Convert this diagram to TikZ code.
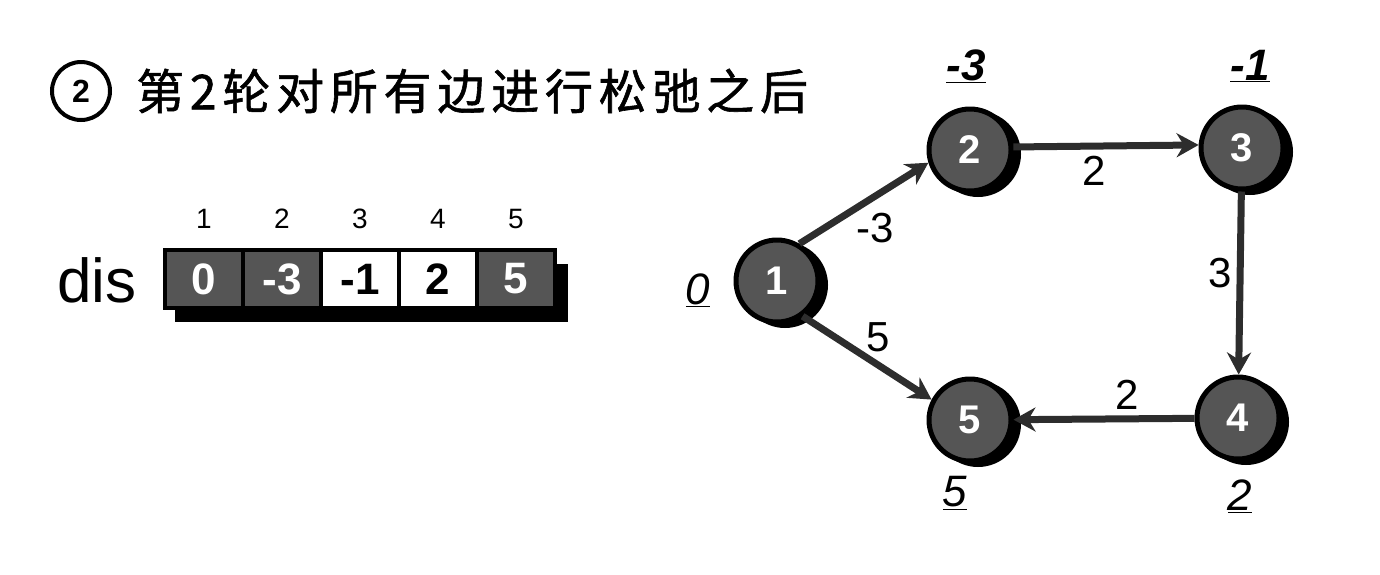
\documentclass[tikz,border=0pt]{standalone}
\usepackage{fontspec}
\setmainfont{Liberation Sans}
\newfontfamily\cjkfont[LetterSpace=12,FakeBold=1.2]{Noto Sans CJK SC}
\definecolor{vgray}{RGB}{85,85,85}
\definecolor{egray}{RGB}{45,45,45}
\usetikzlibrary{arrows.meta,positioning}

\begin{document}
\begin{tikzpicture}[x=1pt,y=-1pt,
    vertex/.style={draw=black, line width=5pt, circle, fill=vgray, minimum size=82pt, inner sep=0pt, text=white, font=\fontsize{40}{40}\selectfont\bfseries},
    link/.style={draw=egray, line width=7pt, -{Stealth[length=22pt,width=24pt]}},
    elabel/.style={font=\fontsize{42}{42}\selectfont},
    dlabel/.style={font=\fontsize{44}{44}\selectfont\itshape},
    cell/.style={draw=black, line width=4pt, minimum width=78pt, minimum height=58pt, inner sep=0pt, font=\fontsize{44}{44}\selectfont\bfseries}]
    \useasboundingbox (0,0) rectangle (1380,574);

    % Title
    \node[circle, draw, line width=4pt, minimum size=58pt, inner sep=0pt, font=\fontsize{32}{32}\selectfont\bfseries] (num) at (81,91) {2};
    \node[anchor=west, inner sep=0pt, font=\fontsize{48}{48}\cjkfont] (title) at (136,91) {第2轮对所有边进行松弛之后};

    % dis array
    \node[font=\fontsize{62}{62}\selectfont] (dis) at (97,280) {dis};
    \fill[black] (175,264) rectangle (568,322);
    \foreach \i/\v/\f/\t in {1/0/vgray/white, 2/-3/vgray/white, 3/-1/white/black, 4/2/white/black, 5/5/vgray/white} {
        \node[cell, fill=\f, text=\t] (c\i) at ({126+78*\i},279) {\v};
        \node[font=\fontsize{28}{28}\selectfont] (k\i) at ({126+78*\i},219) {\i};
    }

    % Vertices
    \foreach \n/\x/\y in {1/777/281, 2/970/150, 3/1242/148, 4/1238/418, 5/970/420} {
        \fill[black] (\x+8,\y+4) circle (43pt);
        \node[vertex] (v\n) at (\x,\y) {\n};
    }

    % Distances
    \node[dlabel] (d1) at (698,290) {\underline{0}};
    \node[dlabel] (d2) at (966,66) {\bfseries\underline{-3}};
    \node[dlabel] (d3) at (1250,66) {\bfseries\underline{-1}};
    \node[dlabel] (d4) at (1240,496) {\underline{2}};
    \node[dlabel] (d5) at (955,493) {\underline{5}};

    % Edges
    \draw[link] (v1.59) -- (v2.197);
    \draw[link] (v2.4) -- (v3.176);
    \draw[link] (v3) -- (v4);
    \draw[link] (v4) -- (v5);
    \draw[link] (v1.306) -- (v5.152);
    \node[elabel] (w12) at (875,228) {-3};
    \node[elabel] (w23) at (1094,171) {2};
    \node[elabel] (w34) at (1220,273) {3};
    \node[elabel] (w15) at (878,337) {5};
    \node[elabel] (w45) at (1127,395) {2};
\end{tikzpicture}
\end{document}
